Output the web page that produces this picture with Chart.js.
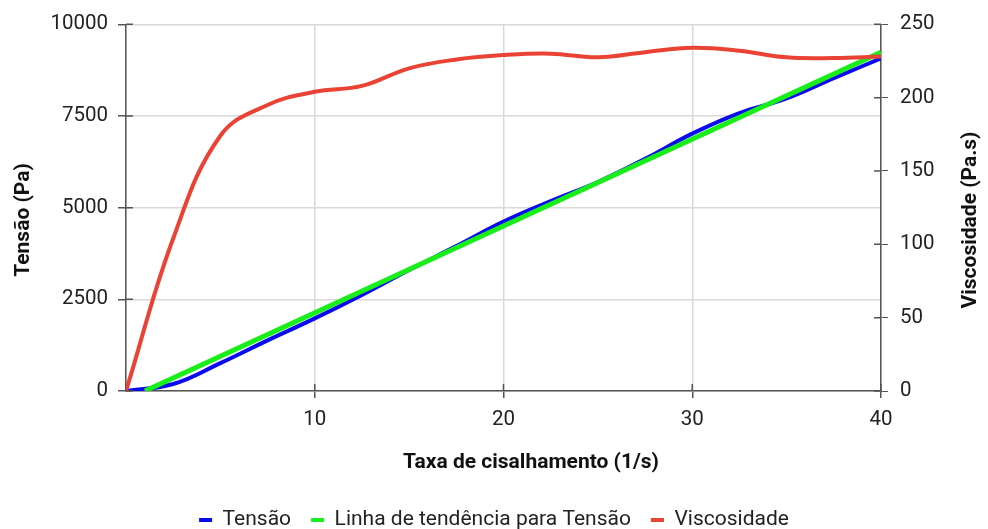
<!DOCTYPE html>
<html lang="pt">
<head>
<meta charset="utf-8">
<title>Tensão e viscosidade</title>
<script src="https://cdn.jsdelivr.net/npm/chart.js@4.4.1/dist/chart.umd.min.js"></script>
<style>
  html, body { margin: 0; padding: 0; background: #fff; }
  #wrap { position: relative; width: 988px; height: 529px; }
</style>
</head>
<body>
<div id="wrap"><canvas id="chart"></canvas></div>
<script>
// ── Data ──
const shearRate   = [0, 2.5, 5, 7.5, 10, 12.5, 15, 17.5, 20, 22.5, 25, 27.5, 30, 32.5, 35, 37.5, 40];
const tensao      = [0, 190, 760, 1380, 1980, 2620, 3300, 3950, 4620, 5180, 5700, 6330, 7020, 7580, 7980, 8530, 9070];
const viscosidade = [0, 104, 174, 195, 204, 208, 220, 226, 229, 230, 227.5, 231, 234, 232, 227.5, 227, 228];
const trendX      = [1, 40];
const trendY      = [0, 9240];
const tensaoTicks = [0, 2500, 5000, 7500, 10000];
const viscTicks   = [0, 50, 100, 150, 200, 250];
const xTicks      = [0, 10, 20, 30, 40];

const X_TITLE  = 'Taxa de cisalhamento (1/s)';
const Y_TITLE  = 'Tensão (Pa)';
const Y1_TITLE = 'Viscosidade (Pa.s)';

// ── Colours ──
const AXIS = '#555';
const GRID = '#d9d9d9';
const TEXT = '#222';

Chart.defaults.font.family = 'Roboto';
Chart.defaults.font.size = 20.5;
Chart.defaults.color = TEXT;

const pts = (xs, ys) => xs.map((x, i) => ({ x, y: ys[i] }));

// tick marks that also reach into the plot area
const innerTicks = {
  id: 'innerTicks',
  afterDraw(chart) {
    const { ctx, chartArea: a, scales } = chart;
    ctx.save();
    ctx.strokeStyle = AXIS;
    ctx.lineWidth = 1.5;
    ctx.beginPath();
    scales.x.ticks.forEach(t => {
      if (t.value === 0) return;
      const px = scales.x.getPixelForValue(t.value);
      ctx.moveTo(px, a.bottom); ctx.lineTo(px, a.bottom - 7);
    });
    scales.y.ticks.forEach(t => {
      const py = scales.y.getPixelForValue(t.value);
      ctx.moveTo(a.left, py); ctx.lineTo(a.left + 7, py);
    });
    scales.y1.ticks.forEach(t => {
      const py = scales.y1.getPixelForValue(t.value);
      ctx.moveTo(a.right, py); ctx.lineTo(a.right - 7, py);
    });
    ctx.stroke();
    ctx.restore();
  }
};

// axis titles, both y titles read bottom-to-top like the original
const axisTitles = {
  id: 'axisTitles',
  afterDraw(chart) {
    const { ctx } = chart;
    ctx.save();
    ctx.font = 'bold 21px Roboto';
    ctx.fillStyle = '#111';
    ctx.textAlign = 'center';
    ctx.textBaseline = 'middle';
    ctx.fillText(X_TITLE, 531, 463);
    [[Y_TITLE, 24], [Y1_TITLE, 971]].forEach(([txt, x]) => {
      ctx.save();
      ctx.translate(x, 220);
      ctx.rotate(-Math.PI / 2);
      ctx.fillText(txt, 0, 0);
      ctx.restore();
    });
    ctx.restore();
  }
};

const fixedTicks = list => scale => { scale.ticks = list.map(v => ({ value: v })); };

new Chart(document.getElementById('chart'), {
  type: 'line',
  data: {
    datasets: [
      {
        label: 'Tensão',
        data: pts(shearRate, tensao),
        borderColor: '#0a0af0',
        backgroundColor: '#0a0af0',
        borderWidth: 4,
        tension: 0.4,
        yAxisID: 'y',
        order: 3
      },
      {
        label: 'Linha de tendência para Tensão',
        data: pts(trendX, trendY),
        borderColor: '#18ee18',
        backgroundColor: '#18ee18',
        borderWidth: 5,
        yAxisID: 'y',
        order: 2
      },
      {
        label: 'Viscosidade',
        data: pts(shearRate, viscosidade),
        borderColor: '#ea4335',
        backgroundColor: '#ea4335',
        borderWidth: 4,
        tension: 0.4,
        yAxisID: 'y1',
        order: 1
      }
    ]
  },
  options: {
    responsive: true,
    maintainAspectRatio: false,
    animation: false,
    layout: { padding: { top: 23, left: 0, right: 0, bottom: 0 } },
    elements: { point: { radius: 0, hoverRadius: 0 } },
    plugins: {
      legend: {
        position: 'bottom',
        maxHeight: 39.5,
        labels: {
          boxWidth: 13,
          boxHeight: 4,
          padding: 20,
          color: TEXT,
          font: { size: 21 },
          sort: (a, b) => a.datasetIndex - b.datasetIndex,
          generateLabels: chart =>
            Chart.defaults.plugins.legend.labels.generateLabels(chart)
              .map(l => ({ ...l, fillStyle: l.strokeStyle, lineWidth: 0 }))
        }
      },
      tooltip: { enabled: false }
    },
    scales: {
      x: {
        type: 'linear',
        min: 0,
        max: 40,
        afterBuildTicks: fixedTicks(xTicks),
        border: { color: AXIS, width: 1.5 },
        grid: {
          color: GRID,
          lineWidth: 1.5,
          tickLength: 7,
          tickColor: c => (c.tick && c.tick.value === 0 ? 'rgba(0,0,0,0)' : AXIS)
        },
        ticks: { padding: 10, color: TEXT, callback: v => (v === 0 ? '' : String(v)) },
        afterFit: s => { s.height = 98.5; }
      },
      y: {
        position: 'left',
        min: 0,
        max: 10000,
        afterBuildTicks: fixedTicks(tensaoTicks),
        border: { color: AXIS, width: 1.5 },
        grid: { color: GRID, lineWidth: 1.5, tickLength: 8, tickColor: AXIS },
        ticks: { padding: 10, color: TEXT, callback: v => String(v) },
        afterFit: s => { s.width = 126; }
      },
      y1: {
        position: 'right',
        min: 0,
        max: 250,
        afterBuildTicks: fixedTicks(viscTicks),
        border: { color: AXIS, width: 1.5 },
        grid: { drawOnChartArea: false, tickLength: 7, tickColor: AXIS },
        ticks: { padding: 12, color: TEXT, callback: v => String(v) },
        afterFit: s => { s.width = 107; }
      }
    }
  },
  plugins: [innerTicks, axisTitles]
});
</script>
</body>
</html>
